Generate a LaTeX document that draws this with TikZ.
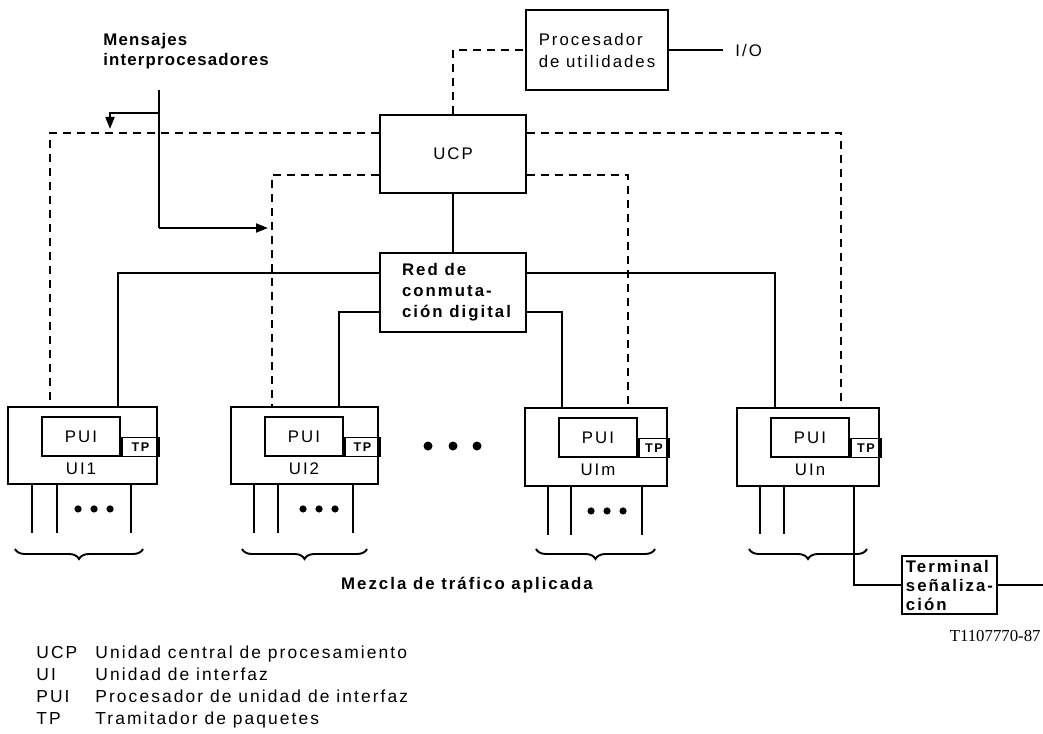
\documentclass[tikz,border=0pt]{standalone}
\usepackage{fontspec}
\setmainfont{Liberation Sans}[LetterSpace=12]
\newfontfamily\codefont{Liberation Serif}
\usetikzlibrary{arrows.meta,decorations.pathreplacing}

\tikzset{
  box/.style={draw, line width=0.95pt, inner sep=0pt, align=left,
              font=\fontsize{8.4}{11}\selectfont},
  ctrl/.style={line width=0.95pt, dash pattern=on 4pt off 3pt},
  wire/.style={line width=0.95pt},
  lbl/.style={inner sep=0pt, font=\fontsize{8.4}{11}\selectfont},
  legend/.style={inner sep=0pt, font=\fontsize{8.7}{11}\selectfont},
  boldlbl/.style={inner sep=0pt, align=left, font=\fontsize{8.4}{10}\selectfont\bfseries},
  arr/.style={wire, -{Triangle[length=6pt,width=4.5pt]}},
  bigdot/.style={fill, circle, inner sep=0pt, minimum size=4.5pt},
  smalldot/.style={fill, circle, inner sep=0pt, minimum size=3.6pt},
  brace/.style={line width=0.95pt, decorate, decoration={brace, mirror, amplitude=5pt}},
}

% interface unit: #1 name, #2 left, #3 top, #4 right, #5 bottom, #6 label
\newcommand\ifunit[6]{%
  \node[box, minimum width={(#4-#2)*0.5pt}, minimum height={(#5-#3)*0.5pt}]
    (#1) at ({(#2+#4)/2},{(#3+#5)/2}) {};
  \node[box, minimum width=39pt, minimum height=19.5pt]
    (#1pui) at ({#2+34+39},{436.5+#3-407}) {PUI};
  \node[draw, line width=0.95pt, inner sep=0pt, anchor=north west,
        minimum height=9.5pt, minimum width={(#4-#2-112)*0.5pt},
        font=\fontsize{6.3}{7}\selectfont\bfseries]
    (#1tp) at (#1pui.east) {TP};
  \node[lbl] (#1lbl) at ({#2+34+39},{469+#3-407}) {#6};
}

\begin{document}
\begin{tikzpicture}[x=0.5pt, y=-0.5pt]
\useasboundingbox (0,0) rectangle (1043,733);

% central blocks
\node[box, minimum width=71pt, minimum height=40pt] (proc) at (597,50)
  {Procesador\\de utilidades};
\node[lbl, anchor=west] (io) at (735,50) {I/O};
\node[box, minimum width=73pt, minimum height=39pt, align=center] (ucp) at (453,154) {UCP};
\node[box, minimum width=73pt, minimum height=39.5pt,
      font=\fontsize{8.4}{10.5}\selectfont\bfseries] (red) at (453,292.5)
  {\hspace*{3.5pt}Red de\\\hspace*{3.5pt}conmuta-\\\hspace*{3.5pt}ción digital};

% interface units
\ifunit{uia}{8}{407}{157}{484}{UI1}
\ifunit{uib}{231}{407}{378}{484}{UI2}
\ifunit{uim}{525}{408}{667}{486}{UIm}
\ifunit{uin}{737}{408}{879}{486}{UIn}

% heights of the bus rails
\coordinate (hA) at (0,133);
\coordinate (hB) at (0,175);
\coordinate (hC) at (0,273);
\coordinate (hD) at (0,312);

% control paths from the UCP (dashed)
\draw[ctrl] (ucp.north) |- (proc.west);
\draw[ctrl] (ucp.west |- hA) -| ([xshift=21.5pt]uia.north west);
\draw[ctrl] (ucp.west |- hB) -| ([xshift=21pt]uib.north west);
\draw[ctrl] (ucp.east |- hB) -| ([xshift=52pt]uim.north west);
\draw[ctrl] (ucp.east |- hA) -| ([xshift=52.5pt]uin.north west);

% switching network links (solid)
\draw[wire] (ucp.south) -- (red.north);
\draw[wire] (red.west |- hC) -| ([xshift=55.5pt]uia.north west);
\draw[wire] (red.west |- hD) -| ([xshift=54.5pt]uib.north west);
\draw[wire] (red.east |- hD) -| ([xshift=19pt]uim.north west);
\draw[wire] (red.east |- hC) -| ([xshift=19.5pt]uin.north west);
\draw[wire] (proc.east) -- ([xshift=-6pt]io.west);

% interprocessor messages
\node[boldlbl, anchor=north west,
      font=\fontsize{8.4}{10}\selectfont\bfseries\addfontfeatures{LetterSpace=7}] (msg)
  at (103,33) {Mensajes\\interprocesadores};
\coordinate (m0) at (159,90);
\coordinate (m1) at (159,113);
\coordinate (m2) at (159,228);
\coordinate (mL) at (110,129);
\coordinate (mR) at (268,228);
\draw[wire] (m0) -- (m2);
\draw[arr] (m1) -| (mL);
\draw[arr] (m2) -- (mR);

% further units
\node[bigdot] (d1) at (428,446) {};
\node[bigdot] (d2) at (453,446) {};
\node[bigdot] (d3) at (477,446) {};

% subscriber lines under each unit
\foreach \u/\a/\b/\c/\m in {uia/25/50/124/87, uib/24/48/123/89, uim/24/47/118/83}{
  \draw[wire] ([xshift=\a*0.5pt]\u.south west) -- ++(0,48);
  \draw[wire] ([xshift=\b*0.5pt]\u.south west) -- ++(0,48);
  \draw[wire] ([xshift=\c*0.5pt]\u.south west) -- ++(0,48);
  \node[smalldot] at ([xshift={(\m-16)*0.5pt}, yshift=-12pt]\u.south west) {};
  \node[smalldot] at ([xshift=\m*0.5pt, yshift=-12pt]\u.south west) {};
  \node[smalldot] at ([xshift={(\m+16)*0.5pt}, yshift=-12pt]\u.south west) {};
}
\draw[wire] ([xshift=12pt]uin.south west) -- ++(0,47);
\draw[wire] ([xshift=24pt]uin.south west) -- ++(0,47);

% signalling terminal
\node[box, minimum width=47.5pt, minimum height=29pt,
      font=\fontsize{8.4}{9.5}\selectfont\bfseries] (term) at (949.5,585)
  {Terminal\\señaliza-\\ción};
\coordinate (tEnd) at (1043,585);
\draw[wire] ([xshift=59pt]uin.south west) |- (term.west);
\draw[wire] (term.east) -- (tEnd);

% traffic braces
\draw[brace] (15,549) -- (143,549);
\draw[brace] (242,549) -- (367,549);
\draw[brace] (536,549) -- (655,549);
\draw[brace] (749,549) -- (867,549);
\node[boldlbl] (mix) at (467,585) {Mezcla de tráfico aplicada};

\node[inner sep=0pt, anchor=east, font=\codefont\fontsize{8.4}{10}\selectfont] (code)
  at (1041,636) {T1107770-87};

% legend
\foreach \ab/\txt [count=\i from 0] in {UCP/Unidad central de procesamiento,
    UI/Unidad de interfaz, PUI/Procesador de unidad de interfaz,
    TP/Tramitador de paquetes}{
  \node[legend, anchor=base west] (ab\i) at (36,{658+22*\i}) {\ab};
  \node[legend, anchor=base west] (tx\i) at (95,{658+22*\i}) {\txt};
}
\end{tikzpicture}
\end{document}
